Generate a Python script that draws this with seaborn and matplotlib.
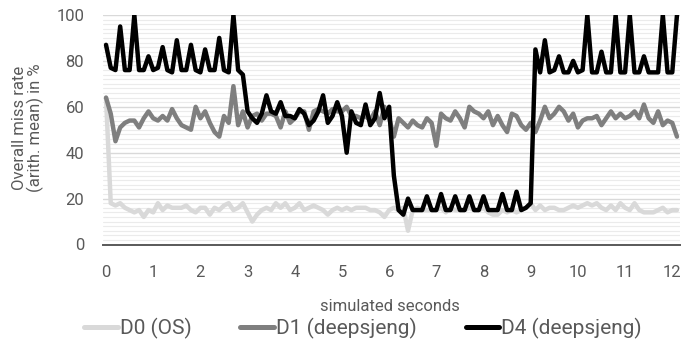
import numpy as np
import pandas as pd
import seaborn as sns
import matplotlib
matplotlib.use("Agg")
import matplotlib.pyplot as plt
from matplotlib.ticker import MultipleLocator

# ---- data ----
seconds = [round(i * 0.1, 1) for i in range(122)]

d0_os = [64, 18, 17, 18, 16, 15, 14, 15, 12, 15, 14, 18, 15, 17, 16, 16, 16, 17, 15, 14, 16,
         16, 13, 16, 15, 17, 18, 15, 16, 18, 14, 10, 13, 15, 16, 15, 18, 16, 18, 15, 16,
         18, 15, 16, 17, 16, 15, 13, 15, 16, 15, 16, 15, 16, 16, 16, 15, 15, 14, 12,
         15, 16, 15, 16, 6, 15, 16, 15, 15, 15, 15, 16, 14, 16, 15, 15, 15, 16, 15, 15,
         16, 14, 13, 13, 15, 14, 15, 14, 15, 16, 18, 15, 17, 15, 16, 16, 15, 15, 16,
         17, 16, 17, 18, 17, 18, 16, 15, 17, 15, 18, 16, 15, 18, 15, 14, 14, 14, 15, 16, 14, 15, 15]

d1_deepsjeng = [64, 57, 45, 51, 53, 54, 54, 51, 55, 58, 55, 54, 56, 54, 59, 55, 52, 51, 50, 60, 55,
                58, 53, 49, 47, 56, 53, 69, 52, 58, 51, 56, 57, 54, 57, 57, 56, 51, 58, 53, 55,
                58, 58, 50, 58, 59, 58, 57, 59, 58, 58, 60, 56, 56, 55, 56, 54, 58, 52,
                60, 55, 47, 55, 53, 51, 54, 52, 51, 55, 53, 43, 57, 55, 54, 58, 55, 51, 60, 58, 57, 55,
                58, 52, 56, 52, 49, 57, 56, 52, 50, 53, 49, 54, 60, 55, 57, 60, 58, 54,
                57, 51, 54, 55, 55, 56, 52, 55, 58, 55, 57, 55, 56, 58, 55, 61, 55, 53, 58, 52, 54, 53, 47]

d4_deepsjeng = [87, 77, 76, 95, 76, 76, 100, 76, 76, 82, 76, 77, 86, 76, 75, 89, 76, 76, 87, 76, 75,
                85, 76, 76, 90, 76, 75, 100, 76, 74, 58, 55, 53, 57, 65, 58, 57, 62, 56, 56, 55,
                59, 57, 52, 54, 58, 65, 53, 56, 62, 56, 40, 58, 53, 52, 61, 52, 55, 66, 55, 60, 30, 15, 13,
                20, 15, 15, 15, 21, 15, 15, 22, 15, 15, 21, 15, 15, 21, 15, 15, 21, 15, 15, 15, 22, 15, 15, 23, 15, 16, 18,
                85, 75, 89, 75, 76, 82, 75, 75, 80, 75, 76, 100, 75, 75, 84, 75, 75, 100, 75, 75, 100,
                75, 75, 82, 75, 75, 75, 100, 75, 75, 100]

series_names = ["D0 (OS)", "D1 (deepsjeng)", "D4 (deepsjeng)"]
series_colors = ["#d9d9d9", "#7f7f7f", "#000000"]
x_ticks = list(range(0, 13))
y_ticks = [0, 20, 40, 60, 80, 100]

df = pd.concat([
    pd.DataFrame({"t": seconds, "v": vals, "series": name})
    for name, vals in zip(series_names, [d0_os, d1_deepsjeng, d4_deepsjeng])
], ignore_index=True)

# ---- style ----
sns.set_theme(style="white")
plt.rcParams["font.family"] = ["Roboto", "DejaVu Sans"]
plt.rcParams["font.weight"] = "normal"
txt = "#595959"

W, H = 699, 344
fig = plt.figure(figsize=(W / 100, H / 100), dpi=100)
ax = fig.add_axes([103 / W, 1 - 244.5 / H, 577 / W, (244.5 - 15) / H])

sns.lineplot(data=df, x="t", y="v", hue="series", hue_order=series_names,
             palette=series_colors, linewidth=3.2, ax=ax,
             solid_joinstyle="round", solid_capstyle="round")

ax.set_xlim(-0.064, 12.164)
ax.set_ylim(0, 100)
ax.set_xticks(x_ticks)
ax.set_yticks(y_ticks)
ax.yaxis.set_minor_locator(MultipleLocator(2))
ax.grid(which="minor", axis="y", color="#ebebeb", lw=0.8)
ax.grid(which="major", axis="y", color="#d9d9d9", lw=1.0)
ax.grid(False, axis="x")
ax.set_axisbelow(True)
for s in ["left", "right", "top"]:
    ax.spines[s].set_visible(False)
ax.spines["bottom"].set_color(txt)
ax.spines["bottom"].set_linewidth(1.4)
ax.tick_params(axis="x", which="both", length=0, pad=14.5, labelsize=12, colors=txt)
ax.tick_params(axis="y", which="both", length=0, pad=13.5, labelsize=12, colors=txt)
ax.set_xlabel("")
ax.set_ylabel("")

fig.text(28 / W, 1 - 128 / H, "Overall miss rate\n(arith. mean) in %", rotation=90,
         ha="center", va="center", fontsize=12, color=txt, linespacing=1.05)
fig.text(390 / W, 1 - 311 / H, "simulated seconds", ha="center", va="baseline",
         fontsize=12, color=txt)

handles, labels = ax.get_legend_handles_labels()
for h in handles:
    h.set_linewidth(3.6)
ax.legend(handles, labels, loc="center", bbox_to_anchor=(363 / W, 1 - 328 / H),
          bbox_transform=fig.transFigure, ncol=3, frameon=False, fontsize=15,
          handlelength=1.6, handletextpad=0.1, columnspacing=2.35, labelcolor=txt)

fig.savefig("out.png", dpi=100)
